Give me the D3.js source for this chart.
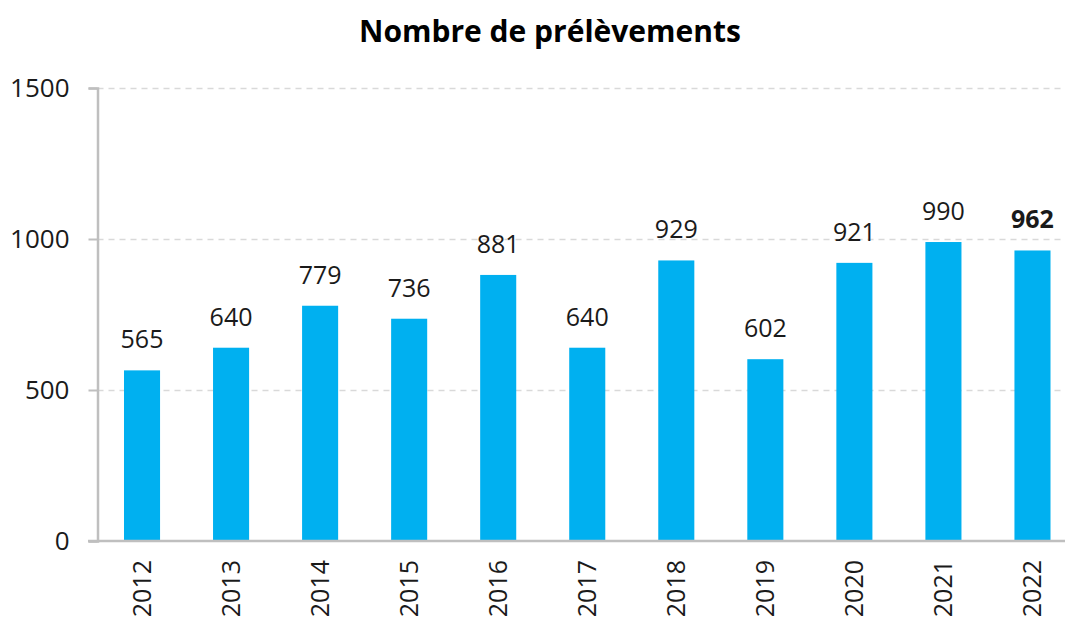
<!DOCTYPE html>
<html>
<head>
<meta charset="utf-8">
<script src="https://cdn.jsdelivr.net/npm/d3@7"></script>
<style>
  html, body { margin: 0; padding: 0; background: #fff; }
  svg { display: block; font-family: "Open Sans", sans-serif; }
</style>
</head>
<body>
<svg id="chart" width="1065" height="619"></svg>
<script>
// Annual sample counts
const years = ["2012", "2013", "2014", "2015", "2016", "2017", "2018", "2019", "2020", "2021", "2022"];
const counts = [565, 640, 779, 736, 881, 640, 929, 602, 921, 990, 962];
const yTicks = [0, 500, 1000, 1500];
const title = "Nombre de prélèvements";

const svg = d3.select("#chart");
const plotLeft = 97.5, plotRight = 1077, plotTop = 88, plotBottom = 541;

const x = d3.scaleBand().domain(years).range([plotLeft, plotRight]).paddingInner(0.595).paddingOuter(0.2975);
const y = d3.scaleLinear().domain([0, 1500]).range([plotBottom, plotTop]);

// Horizontal dashed gridlines
svg.append("g")
  .selectAll("line")
  .data(yTicks.filter(d => d > 0))
  .join("line")
  .attr("x1", plotLeft).attr("x2", 1065)
  .attr("y1", d => y(d) + 0.5).attr("y2", d => y(d) + 0.5)
  .attr("stroke", "#d9d9d9").attr("stroke-width", 1.5)
  .attr("stroke-dasharray", "6,5");

// Bars
svg.append("g")
  .selectAll("rect")
  .data(years.map((yr, i) => ({ yr, v: counts[i] })))
  .join("rect")
  .attr("x", d => x(d.yr))
  .attr("width", x.bandwidth())
  .attr("y", d => y(d.v))
  .attr("height", d => y(0) - y(d.v))
  .attr("fill", "#00b0f0");

// Value labels
svg.append("g")
  .selectAll("text")
  .data(years.map((yr, i) => ({ yr, v: counts[i], last: i === years.length - 1 })))
  .join("text")
  .attr("x", d => x(d.yr) + x.bandwidth() / 2)
  .attr("y", d => y(d.v) - 22)
  .attr("text-anchor", "middle")
  .attr("font-size", 25)
  .attr("font-weight", d => d.last ? 700 : 400)
  .attr("fill", "#1a1a1a")
  .text(d => d.v);

// Y axis
const yAxis = svg.append("g")
  .attr("transform", `translate(${plotLeft},0)`)
  .call(d3.axisLeft(y).tickValues(yTicks).tickFormat(d3.format("d")).tickSize(9).tickPadding(19));
yAxis.select(".domain").attr("stroke", "#bfbfbf").attr("stroke-width", 2.5);
yAxis.selectAll(".tick line").attr("stroke", "#bfbfbf").attr("stroke-width", 2);
yAxis.selectAll(".tick text")
  .attr("font-family", "Open Sans, sans-serif")
  .attr("font-size", 26).attr("fill", "#1a1a1a");

// X axis
const xAxis = svg.append("g")
  .attr("transform", `translate(0,${plotBottom})`)
  .call(d3.axisBottom(x).tickSize(0).tickPadding(0));
xAxis.select(".domain").remove();
svg.append("line")
  .attr("x1", 88).attr("x2", 1065)
  .attr("y1", plotBottom).attr("y2", plotBottom)
  .attr("stroke", "#bfbfbf").attr("stroke-width", 2.5);
xAxis.selectAll(".tick text")
  .attr("font-family", "Open Sans, sans-serif")
  .attr("font-size", 25).attr("fill", "#1a1a1a")
  .attr("text-anchor", "end")
  .attr("transform", "translate(0,19) rotate(-90)")
  .attr("dy", "0.35em")
  .attr("y", 0).attr("x", 0);

// Title
svg.append("text")
  .attr("x", 550).attr("y", 42)
  .attr("text-anchor", "middle")
  .attr("font-size", 30).attr("font-weight", 700)
  .attr("fill", "#000")
  .text(title);
</script>
</body>
</html>
